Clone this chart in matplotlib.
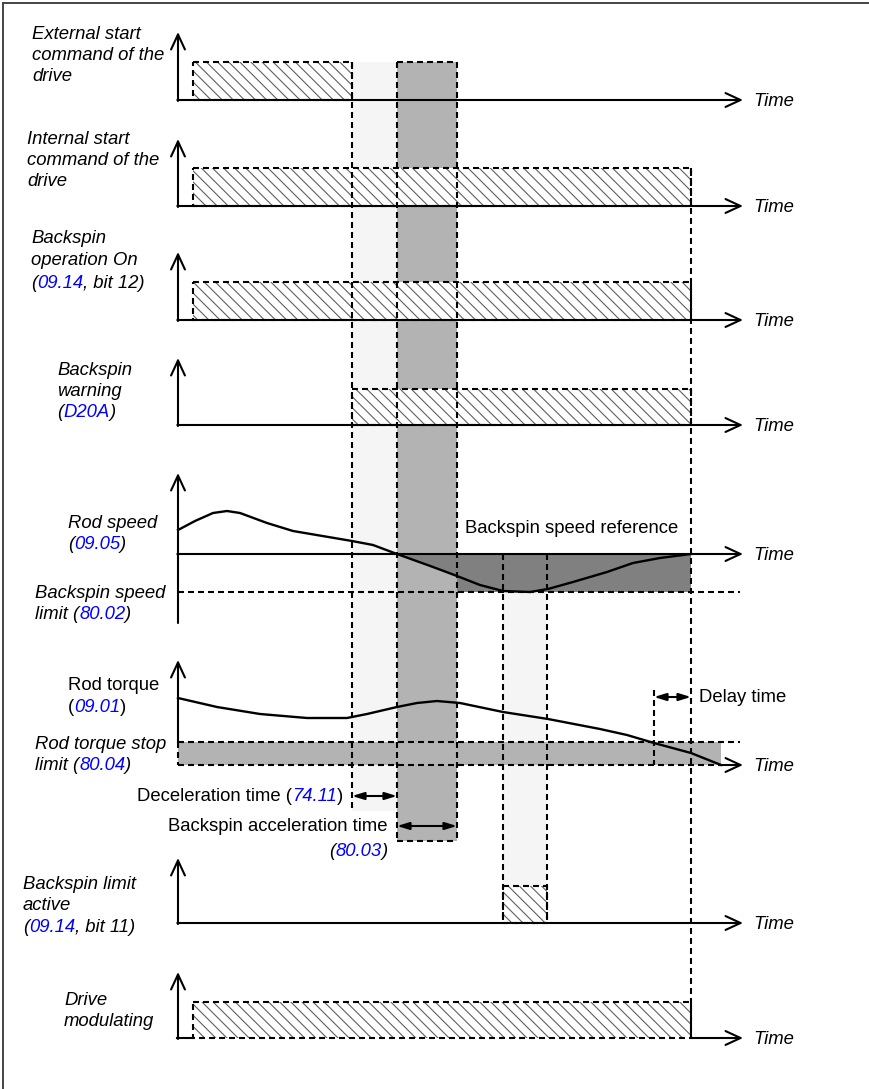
import matplotlib
matplotlib.use("Agg")
import matplotlib.pyplot as plt
from matplotlib.patches import Rectangle, FancyArrowPatch
from matplotlib.lines import Line2D
import numpy as np

plt.rcParams["font.family"] = ["Liberation Sans", "DejaVu Sans"]
plt.rcParams["lines.scale_dashes"] = False
plt.rcParams["hatch.linewidth"] = 0.8
plt.rcParams["hatch.color"] = "#606060"

W, H, DPI = 869, 1089, 100
FS = 13.3
BLUE = "#0000ff"
LIGHT = "#f5f5f5"
MID = "#b3b3b3"
DARK = "#808080"
DASH = (0, (4.3, 2.9))
LW = 1.5

# ---- event times on the common time axis ----
T_ORIGIN = 178
T_RUN = 193
T_EXT_STOP = 352
T_DECEL_END = 397
T_ACCEL_END = 457
T_LIMIT_ON = 503
T_LIMIT_OFF = 547
T_DELAY_START = 654
T_STOP = 691
T_TORQUE_END = 721
T_AXIS_END = 743

# ---- on/off signals ----
digital_names = ["ext_start", "int_start", "backspin_on", "backspin_warn",
                 "limit_active", "modulating"]
digital_base = [100, 206, 320, 425, 923, 1038]
digital_high = [62, 168, 282, 389, 886, 1002]
digital_top = [32, 139, 252, 358, 858, 972]
digital_on = [(T_RUN, T_EXT_STOP), (T_RUN, T_STOP), (T_RUN, T_STOP),
              (T_EXT_STOP, T_STOP), (T_LIMIT_ON, T_LIMIT_OFF), (T_RUN, T_STOP)]
axis_over_bar = [True, True, True, True, True, False]

# ---- rod speed (09.05) ----
speed_zero = 554
speed_limit = 592
speed_top, speed_bottom = 473, 623
speed_t = [178, 195, 213, 227, 240, 267, 293, 352, 373, 397, 433, 457, 480,
           503, 530, 548, 573, 607, 633, 660, 691]
speed_v = [530, 521, 513, 511, 513, 523, 531, 541, 545, 554, 567, 576, 585,
           591, 592, 589, 582, 572, 563, 558, 554]

# ---- rod torque (09.01) ----
torque_zero = 765
torque_limit = 742
torque_top = 660
torque_t = [178, 217, 260, 307, 347, 367, 397, 417, 437, 460, 503, 548, 600,
            627, 654, 691, 721]
torque_v = [698, 707, 714, 718, 718, 714, 707, 703, 701, 703, 712, 719, 729,
            735, 743, 753, 765]

fig = plt.figure(figsize=(W / DPI, H / DPI), dpi=DPI)
ax = fig.add_axes([0, 0, 1, 1])
ax.set_xlim(0, W)
ax.set_ylim(H, 0)
ax.axis("off")
renderer = fig.canvas.get_renderer()


def vdash(x, y0, y1, z=3):
    ax.plot([x, x], [y0, y1], color="black", lw=LW, ls=DASH, zorder=z,
            solid_capstyle="butt", dash_capstyle="butt")


def hdash(x0, x1, y, z=3):
    ax.plot([x0, x1], [y, y], color="black", lw=LW, ls=DASH, zorder=z,
            dash_capstyle="butt")


def arrow(p0, p1, z=6):
    a = FancyArrowPatch(p0, p1, arrowstyle="->,head_length=0.54,head_width=0.25",
                        mutation_scale=20, lw=LW, color="black",
                        shrinkA=0, shrinkB=0, zorder=z)
    ax.add_patch(a)


def span_arrow(x0, x1, y):
    a = FancyArrowPatch((x0, y), (x1, y),
                        arrowstyle="<|-|>,head_length=0.36,head_width=0.11",
                        mutation_scale=20, lw=LW, color="black",
                        shrinkA=0, shrinkB=0, zorder=6)
    ax.add_patch(a)


def rich(x, y, parts, ha="left"):
    """Draw a line of text made of differently styled pieces."""
    items = []
    for s, style, color in parts:
        t = ax.text(0, y, s, fontsize=FS, style=style, color=color,
                    va="baseline", ha="left", zorder=8)
        w = t.get_window_extent(renderer).width
        items.append((t, w))
    total = sum(w for _, w in items)
    cx = x if ha == "left" else x - total
    for t, w in items:
        t.set_x(cx)
        cx += w


def hatched_bar(x0, x1, y_hi, y_lo):
    ax.add_patch(Rectangle((x0, y_hi), x1 - x0, y_lo - y_hi, facecolor="white",
                           edgecolor="#606060", lw=0, hatch="\\\\\\", zorder=2))
    ax.add_patch(Rectangle((x0, y_hi), x1 - x0, y_lo - y_hi, facecolor="none",
                           edgecolor="black", lw=LW, ls=DASH, zorder=3))


# ---- shaded time windows ----
ax.add_patch(Rectangle((T_EXT_STOP, digital_high[0]), T_DECEL_END - T_EXT_STOP,
                       811 - digital_high[0], color=LIGHT, lw=0, zorder=1))
ax.add_patch(Rectangle((T_DECEL_END, digital_high[0]), T_ACCEL_END - T_DECEL_END,
                       841 - digital_high[0], color=MID, lw=0, zorder=1))
hdash(T_DECEL_END, T_ACCEL_END, digital_high[0], z=1.5)
hdash(T_DECEL_END, T_ACCEL_END, 841, z=1.5)
ax.add_patch(Rectangle((T_LIMIT_ON, speed_limit), T_LIMIT_OFF - T_LIMIT_ON,
                       digital_high[4] - speed_limit, color=LIGHT, lw=0, zorder=1))

# ---- speed reference area ----
st = np.array(speed_t)
sv = np.array(speed_v)
m = (st >= T_DECEL_END) & (st <= T_ACCEL_END)
ax.fill_between(st[m], sv[m], speed_zero, color=DARK, lw=0, zorder=1.2)
ax.add_patch(Rectangle((T_ACCEL_END, speed_zero), T_STOP - T_ACCEL_END,
                       speed_limit - speed_zero, color=DARK, lw=0, zorder=1.2))

# ---- torque stop limit band ----
ax.add_patch(Rectangle((T_ORIGIN, torque_limit), T_TORQUE_END - T_ORIGIN,
                       torque_zero - torque_limit, color=MID, lw=0, zorder=1.3))
hdash(T_ORIGIN, 740, torque_limit, z=3)
hdash(T_ORIGIN, T_TORQUE_END, torque_zero, z=3)
vdash(T_ORIGIN, torque_limit, torque_zero)

# ---- vertical event markers ----
vdash(T_EXT_STOP, digital_high[0], 811)
vdash(T_DECEL_END, digital_high[0], 841)
vdash(T_ACCEL_END, digital_high[0], 841)
vdash(T_LIMIT_ON, speed_zero, digital_base[4])
vdash(T_LIMIT_OFF, speed_zero, digital_base[4])
vdash(T_STOP, digital_high[1], digital_base[5])
vdash(T_DELAY_START, 690, torque_zero)
hdash(T_ORIGIN, 740, speed_limit)

# ---- on/off signals ----
for base, high, top, (t0, t1), over in zip(digital_base, digital_high,
                                           digital_top, digital_on, axis_over_bar):
    hatched_bar(t0, t1, high, base)
    arrow((T_ORIGIN, base + 1), (T_ORIGIN, top))
    if over:
        arrow((T_ORIGIN - 0.7, base), (T_AXIS_END, base))
    else:
        ax.plot([T_ORIGIN - 0.7, t0], [base, base], color="black", lw=LW, zorder=6)
        arrow((t1, base), (T_AXIS_END, base))
    ax.text(753, base + 6, "Time", fontsize=FS, style="italic",
            va="baseline", zorder=8)

# ---- rod speed ----
arrow((T_ORIGIN, speed_bottom), (T_ORIGIN, speed_top))
arrow((T_ORIGIN - 0.7, speed_zero), (T_AXIS_END, speed_zero))
ax.plot(speed_t, speed_v, color="black", lw=1.7, zorder=7,
        solid_joinstyle="round")
ax.text(753, speed_zero + 6, "Time", fontsize=FS, style="italic",
        va="baseline", zorder=8)

# ---- rod torque ----
arrow((T_ORIGIN, torque_limit), (T_ORIGIN, torque_top))
arrow((T_TORQUE_END, torque_zero), (T_AXIS_END, torque_zero))
ax.plot(torque_t, torque_v, color="black", lw=1.7, zorder=7,
        solid_joinstyle="round")
ax.text(753, torque_zero + 6, "Time", fontsize=FS, style="italic",
        va="baseline", zorder=8)

# ---- duration markers ----
span_arrow(T_EXT_STOP, T_DECEL_END, 796)
span_arrow(T_DECEL_END, T_ACCEL_END, 826)
span_arrow(T_DELAY_START, T_STOP, 697)

# ---- labels ----
I, N = "italic", "normal"
K = "black"
rich(32, 39, [("External start", I, K)])
rich(32, 60, [("command of the", I, K)])
rich(32, 81, [("drive", I, K)])

rich(27, 144, [("Internal start", I, K)])
rich(27, 165, [("command of the", I, K)])
rich(27, 186, [("drive", I, K)])

rich(31, 243, [("Backspin", I, K)])
rich(31, 265, [("operation On", I, K)])
rich(31, 288, [("(", I, K), ("09.14", I, BLUE), (", bit 12)", I, K)])

rich(57, 375, [("Backspin", I, K)])
rich(57, 396, [("warning", I, K)])
rich(57, 417, [("(", I, K), ("D20A", I, BLUE), (")", I, K)])

rich(68, 528, [("Rod speed", I, K)])
rich(68, 549, [("(", I, K), ("09.05", I, BLUE), (")", I, K)])
rich(35, 598, [("Backspin speed", I, K)])
rich(35, 619, [("limit (", I, K), ("80.02", I, BLUE), (")", I, K)])
rich(465, 533, [("Backspin speed reference", N, K)])

rich(68, 690, [("Rod torque", N, K)])
rich(68, 712, [("(", N, K), ("09.01", I, BLUE), (")", N, K)])
rich(35, 749, [("Rod torque stop", I, K)])
rich(35, 770, [("limit (", I, K), ("80.04", I, BLUE), (")", I, K)])
rich(699, 702, [("Delay time", N, K)])

rich(343, 801, [("Deceleration time (", N, K), ("74.11", I, BLUE), (")", N, K)],
     ha="right")
rich(388, 831, [("Backspin acceleration time", N, K)], ha="right")
rich(388, 856, [("(", I, K), ("80.03", I, BLUE), (")", I, K)], ha="right")

rich(23, 889, [("Backspin limit", I, K)])
rich(23, 910, [("active", I, K)])
rich(23, 932, [("(", I, K), ("09.14", I, BLUE), (", bit 11)", I, K)])

rich(64, 1005, [("Drive", I, K)])
rich(64, 1026, [("modulating", I, K)])

# ---- page frame ----
fig.add_artist(Line2D([3 / W, 1], [1 - 3 / H, 1 - 3 / H], color="#444444",
                      lw=1.4, transform=fig.transFigure))
fig.add_artist(Line2D([3 / W, 3 / W], [0, 1 - 3 / H], color="#444444",
                      lw=1.4, transform=fig.transFigure))

fig.savefig("out.png", dpi=DPI, facecolor="white")
